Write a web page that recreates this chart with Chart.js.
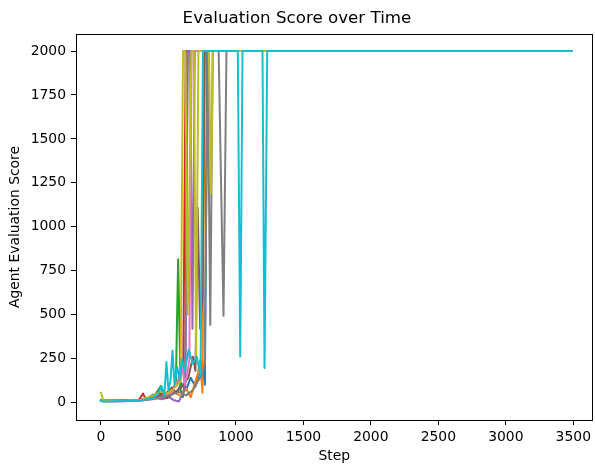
<!DOCTYPE html>
<html>
<head>
<meta charset="utf-8">
<script src="https://cdn.jsdelivr.net/npm/chart.js@4"></script>
<style>
  html, body { margin: 0; padding: 0; background: #fff; }
  canvas { display: block; }
</style>
</head>
<body>
<canvas id="chart" width="595" height="466"></canvas>
<script>
// ── Dados (step, score) ──────────────────────────────────────────────────────
const run0 = [[0,12],[17,8],[105,10],[210,9],[297,14],[350,25],[385,45],[420,30],[455,60],[490,40],[525,85],[560,50],[595,110],[630,70],[665,140],[700,90],[735,180],[752,230],[770,100],[787,2000],[3490,2000]];
const run1 = [[0,10],[17,6],[140,8],[280,12],[350,20],[420,30],[490,45],[542,60],[595,35],[630,80],[665,30],[700,120],[717,160],[735,240],[752,55],[770,2000],[3490,2000]];
const run2 = [[0,12],[17,8],[175,10],[297,15],[350,22],[402,45],[445,95],[462,35],[500,50],[535,80],[555,110],[572,815],[590,70],[608,30],[625,160],[642,2000],[3490,2000]];
const run3 = [[0,10],[17,12],[280,14],[312,50],[332,18],[385,35],[420,55],[472,45],[525,80],[560,95],[590,150],[610,200],[628,2000],[3490,2000]];
const run4 = [[0,8],[105,6],[297,10],[402,25],[455,18],[507,30],[542,12],[577,5],[600,40],[625,90],[643,2000],[660,2000],[678,420],[695,2000],[3490,2000]];
const run5 = [[0,10],[105,8],[297,12],[385,28],[437,40],[490,25],[542,55],[595,85],[647,140],[682,260],[700,180],[717,1110],[735,420],[752,600],[768,2000],[3490,2000]];
const run6 = [[0,10],[175,8],[297,12],[402,20],[472,38],[525,60],[570,120],[600,225],[620,100],[640,160],[655,250],[672,2000],[3490,2000]];
const run7 = [[0,9],[175,10],[350,15],[437,28],[507,40],[577,60],[630,40],[682,70],[717,120],[752,160],[770,220],[790,2000],[810,441],[828,2000],[872,2000],[908,493],[930,2000],[3490,2000]];
const run8 = [[0,55],[17,12],[175,10],[297,15],[385,40],[437,60],[490,50],[542,80],[590,120],[608,2000],[625,2000],[643,500],[670,2000],[688,2000],[705,260],[722,2000],[800,2000],[815,1190],[830,2000],[3490,2000]];
const run9 = [[0,10],[17,5],[175,8],[297,12],[385,25],[420,50],[450,90],[470,40],[485,230],[500,70],[515,120],[530,295],[545,100],[565,200],[585,130],[600,250],[620,180],[650,300],[680,220],[710,260],[738,150],[756,2000],[1014,2000],[1032,261],[1049,2000],[1197,2000],[1212,196],[1232,2000],[3490,2000]];

const runs   = [run0, run1, run2, run3, run4, run5, run6, run7, run8, run9];
const xTicks = [0, 500, 1000, 1500, 2000, 2500, 3000, 3500];
const yTicks = [0, 250, 500, 750, 1000, 1250, 1500, 1750, 2000];

// ── Estilo (tab10) ────────────────────────────────────────────────────────────
const COLORS = ['#1f77b4', '#ff7f0e', '#2ca02c', '#d62728', '#9467bd',
                '#8c564b', '#e377c2', '#7f7f7f', '#bcbd22', '#17becf'];
const FONT = 'DejaVu Sans';

// moldura completa (spines de cima e da direita)
const frame = {
  id: 'frame',
  afterDatasetsDraw(chart) {
    const { ctx, chartArea: a } = chart;
    ctx.save();
    ctx.strokeStyle = '#000';
    ctx.lineWidth = 1;
    ctx.strokeRect(Math.round(a.left) + 0.5, Math.round(a.top) + 0.5,
                   Math.round(a.right - a.left) - 1, Math.round(a.bottom - a.top));
    ctx.restore();
  },
};

const axisCommon = {
  type: 'linear',
  border: { display: false },
  grid: { display: true, drawOnChartArea: false, drawTicks: true, tickLength: 5, color: '#000', lineWidth: 1 },
  ticks: { color: '#000', font: { family: FONT, size: 13.9 }, padding: 4 },
  title: { display: true, color: '#000', font: { family: FONT, size: 13.9 } },
};

new Chart(document.getElementById('chart'), {
  type: 'line',
  data: {
    // como no matplotlib, a última série fica por cima
    datasets: runs.map((r, i) => ({
      data: r.map(([x, y]) => ({ x, y })),
      order: runs.length - i,
      borderColor: COLORS[i],
      borderWidth: 2,
      borderJoinStyle: 'round',
      borderCapStyle: 'square',
      pointRadius: 0,
      tension: 0,
      fill: false,
    })),
  },
  options: {
    responsive: false,
    animation: false,
    parsing: false,
    layout: { padding: { left: 0, right: 1, top: 0, bottom: 0 } },
    plugins: {
      legend: { display: false },
      tooltip: { enabled: false },
      title: {
        display: true,
        text: 'Evaluation Score over Time',
        color: '#000',
        font: { family: FONT, size: 16.7, weight: 'normal' },
        padding: { top: 9, bottom: 5 },
      },
    },
    scales: {
      x: {
        ...axisCommon,
        min: -185, max: 3643,
        afterBuildTicks: s => { s.ticks = xTicks.map(v => ({ value: v })); },
        afterFit: s => { s.height = 46; },
        ticks: { ...axisCommon.ticks, maxRotation: 0, callback: v => String(v) },
        title: { ...axisCommon.title, text: 'Step', padding: { top: 0, bottom: 1 } },
      },
      y: {
        ...axisCommon,
        min: -100, max: 2097,
        afterBuildTicks: s => { s.ticks = yTicks.map(v => ({ value: v })); },
        afterFit: s => { s.width = 76; },
        ticks: { ...axisCommon.ticks, padding: 5, callback: v => String(v) },
        title: { ...axisCommon.title, text: 'Agent Evaluation Score', padding: { top: 7, bottom: 0 } },
      },
    },
  },
  plugins: [frame],
});
</script>
</body>
</html>
